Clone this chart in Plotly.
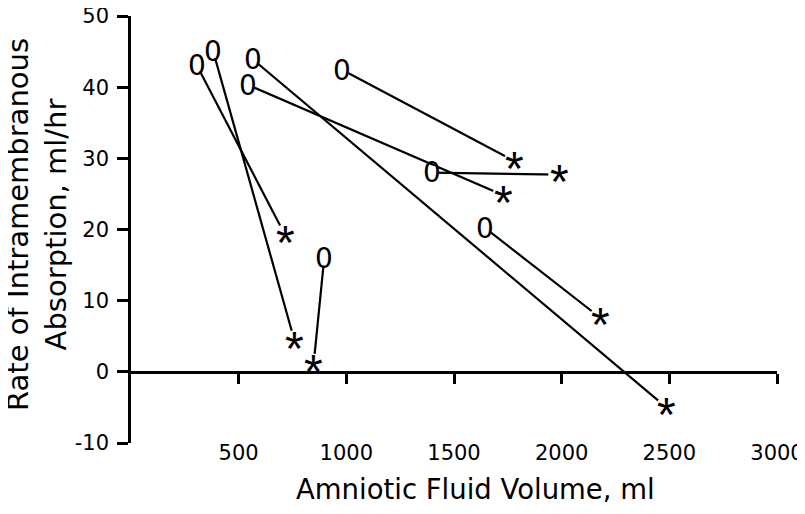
import plotly.graph_objects as go

# Amniotic fluid volume (ml) and intramembranous absorption rate (ml/hr)
# "0" = before, "*" = after, one pair per subject
vol_before = [305, 382, 566, 545, 982, 1397, 1645, 897]
rate_before = [43.1, 45.0, 43.9, 40.3, 42.4, 28.0, 20.2, 15.9]
vol_after = [716, 760, 2486, 1729, 1782, 1989, 2179, 848]
rate_after = [19.2, 4.3, -5.0, 24.8, 29.6, 27.7, 7.6, 1.0]

x_ticks = [500, 1000, 1500, 2000, 2500, 3000]
y_ticks = [-10, 0, 10, 20, 30, 40, 50]

FONT = "DejaVu Sans, Verdana, sans-serif"
STAR_FONT = "Liberation Sans, Arial, sans-serif"

fig = go.Figure()

# connecting lines
for i in range(len(vol_before)):
    fig.add_trace(go.Scatter(x=[vol_before[i], vol_after[i]],
                             y=[rate_before[i], rate_after[i]],
                             mode="lines", line=dict(color="black", width=2.2),
                             hoverinfo="skip", showlegend=False))

# white patches so the lines stop short of the symbols
fig.add_trace(go.Scatter(x=vol_before, y=rate_before, mode="markers",
                         marker=dict(color="white", size=14, line=dict(width=0)),
                         hoverinfo="skip", showlegend=False))
fig.add_trace(go.Scatter(x=vol_after, y=rate_after, mode="markers",
                         marker=dict(color="white", size=22, line=dict(width=0)),
                         hoverinfo="skip", showlegend=False))

for x, y in zip(vol_before, rate_before):
    fig.add_annotation(x=x, y=y, xref="x", yref="y", text="0", showarrow=False,
                       font=dict(family=FONT, size=28, color="black"),
                       xanchor="center", yanchor="middle")
for x, y in zip(vol_after, rate_after):
    fig.add_annotation(x=x, y=y, xref="x", yref="y", text="*", showarrow=False,
                       font=dict(family=STAR_FONT, size=48, color="black"),
                       xanchor="center", yanchor="middle", yshift=-7)

# axis titles
fig.add_annotation(text="Rate of Intramembranous<br>Absorption, ml/hr",
                   xref="paper", yref="paper", x=-0.1453, y=0.511,
                   textangle=-90, showarrow=False, xanchor="center", yanchor="middle",
                   font=dict(family=FONT, size=29, color="black"))
fig.add_annotation(text="Amniotic Fluid Volume, ml",
                   xref="paper", yref="paper", x=0.534, y=-0.108,
                   showarrow=False, xanchor="center", yanchor="middle",
                   font=dict(family=FONT, size=27.5, color="black"))

# the page body adds an 8px margin, so the figure is 8px smaller than the window
fig.update_layout(
    width=797, height=506,
    margin=dict(l=123, r=28, t=8, b=71, autoexpand=False),
    plot_bgcolor="white", paper_bgcolor="white",
    showlegend=False,
    xaxis=dict(range=[0, 3000], tickvals=x_ticks, ticktext=[str(v) for v in x_ticks],
               showline=True, linecolor="black", linewidth=2.5,
               ticks="outside", ticklen=10, tickwidth=2.5, tickcolor="black",
               anchor="free", position=1/6, showgrid=False, zeroline=False,
               ticklabelstandoff=51, automargin=False, ticklabeloverflow="allow",
               tickfont=dict(family=FONT, size=21, color="black")),
    yaxis=dict(range=[-10, 50], tickvals=y_ticks, ticktext=[str(v) for v in y_ticks],
               showline=True, linecolor="black", linewidth=2.5,
               ticks="outside", ticklen=11, tickwidth=2.5, tickcolor="black",
               showgrid=False, zeroline=False, automargin=False,
               ticklabelstandoff=4, ticklabeloverflow="allow",
               tickfont=dict(family=FONT, size=21, color="black")),
)

fig.write_html("out.html")
